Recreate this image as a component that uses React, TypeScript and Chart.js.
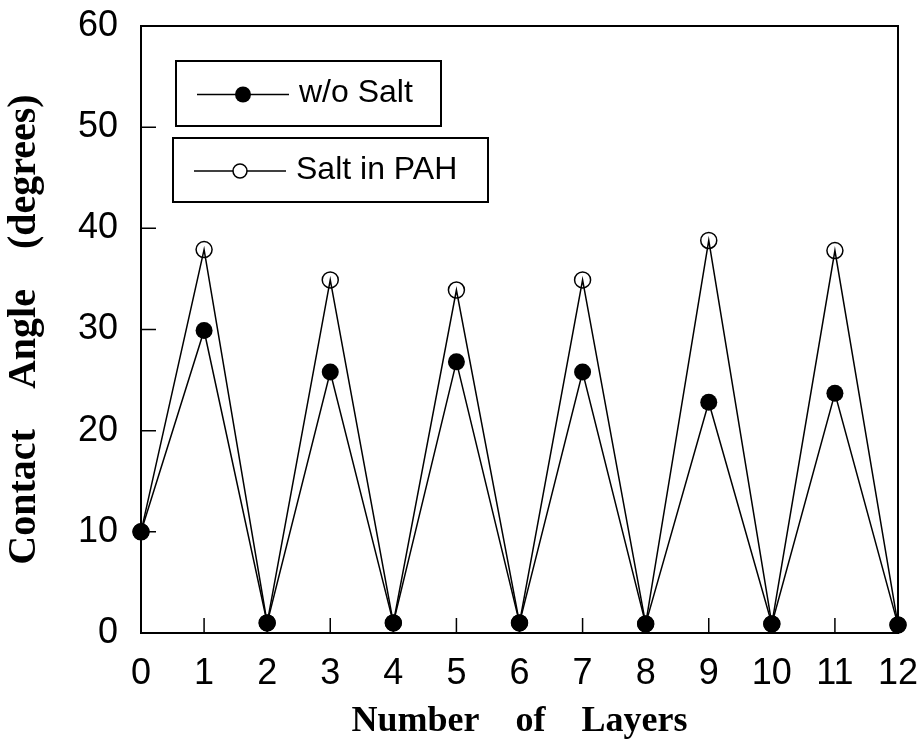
import React, { useEffect, useRef } from "react";
import { Chart, registerables } from "chart.js";
Chart.register(...registerables);

const layers = [0, 1, 2, 3, 4, 5, 6, 7, 8, 9, 10, 11, 12];
const withoutSalt = [10, 29.9, 1, 25.8, 1, 26.8, 1, 25.8, 0.9, 22.8, 0.9, 23.7, 0.8];
const saltInPAH = [10, 37.9, 1, 34.9, 1, 33.9, 1, 34.9, 0.9, 38.8, 0.9, 37.8, 0.8];
const seriesLabels = ["w/o Salt", "Salt in PAH"];
const xTitle = "Number    of    Layers";
const yTitle = "Contact    Angle    (degrees)";
const xTicks = layers;
const yTicks = [0, 10, 20, 30, 40, 50, 60];

const SANS = "'Liberation Sans', Arial, sans-serif";
const SERIF = "'Liberation Serif', 'Times New Roman', serif";

const framePlugin = {
  id: "frame",
  beforeDatasetsDraw(chart: any) {
    const { ctx, chartArea: ca, scales } = chart;
    ctx.save();
    ctx.strokeStyle = "#000";
    ctx.lineWidth = 2;
    ctx.strokeRect(ca.left, ca.top, ca.right - ca.left, ca.bottom - ca.top);
    ctx.lineWidth = 1.5;
    ctx.beginPath();
    for (const v of xTicks) {
      const x = scales.x.getPixelForValue(v);
      ctx.moveTo(x, ca.bottom);
      ctx.lineTo(x, ca.bottom - 15);
    }
    for (const v of yTicks) {
      const y = scales.y.getPixelForValue(v);
      ctx.moveTo(ca.left, y);
      ctx.lineTo(ca.left + 15, y);
    }
    ctx.stroke();
    ctx.restore();
  },
  afterDraw(chart: any) {
    const { ctx, chartArea: ca } = chart;
    const boxes = [
      { dx: 35, dy: 35, w: 265, h: 65, filled: true, r: 8 },
      { dx: 32, dy: 112, w: 315, h: 64, filled: false, r: 7 },
    ];
    ctx.save();
    boxes.forEach((b, i) => {
      const left = ca.left + b.dx;
      const top = ca.top + b.dy;
      ctx.strokeStyle = "#000";
      ctx.lineWidth = 2;
      ctx.strokeRect(left, top, b.w, b.h);
      const cy = top + b.h / 2 + 1;
      ctx.lineWidth = 1.5;
      ctx.beginPath();
      ctx.moveTo(left + 21, cy);
      ctx.lineTo(left + 113, cy);
      ctx.stroke();
      ctx.beginPath();
      ctx.arc(left + 67, cy, b.r, 0, Math.PI * 2);
      if (b.filled) {
        ctx.fillStyle = "#000";
        ctx.fill();
      } else {
        ctx.fillStyle = "#fff";
        ctx.fill();
        ctx.stroke();
      }
      ctx.fillStyle = "#000";
      ctx.font = `32px ${SANS}`;
      ctx.textBaseline = "middle";
      ctx.textAlign = "left";
      ctx.fillText(seriesLabels[i], left + 123, cy - 1);
    });
    ctx.restore();
  },
};

const noPad = (s: any) => {
  s.paddingTop = 0;
  s.paddingBottom = 0;
  s.paddingLeft = 0;
  s.paddingRight = 0;
};

export default function App() {
  const ref = useRef<HTMLCanvasElement | null>(null);
  useEffect(() => {
    if (!ref.current) return;
    const chart = new Chart(ref.current, {
      type: "line",
      data: {
        datasets: [
          {
            label: seriesLabels[0],
            data: layers.map((x, i) => ({ x, y: withoutSalt[i] })),
            borderColor: "#000",
            borderWidth: 1.5,
            pointRadius: 8.5,
            pointBackgroundColor: "#000",
            pointBorderColor: "#000",
            pointBorderWidth: 0,
            tension: 0,
            clip: false,
          },
          {
            label: seriesLabels[1],
            data: layers.map((x, i) => ({ x, y: saltInPAH[i] })),
            borderColor: "#000",
            borderWidth: 1.5,
            pointRadius: 8,
            pointBackgroundColor: "rgba(0,0,0,0)",
            pointBorderColor: "#000",
            pointBorderWidth: 1.5,
            tension: 0,
            clip: false,
          },
        ],
      },
      options: {
        responsive: false,
        animation: false,
        layout: { padding: { top: 26, right: 26, left: 0, bottom: 0 } },
        plugins: { legend: { display: false }, tooltip: { enabled: false } },
        scales: {
          x: {
            type: "linear",
            min: 0,
            max: 12,
            afterFit: (s: any) => {
              s.height = 110;
              noPad(s);
            },
            grid: { display: false },
            border: { display: false },
            ticks: {
              stepSize: 1,
              autoSkip: false,
              maxRotation: 0,
              padding: 11,
              color: "#000",
              font: { family: SANS, size: 36 },
            },
            title: {
              display: true,
              text: xTitle,
              color: "#000",
              padding: { top: 0, bottom: 0 },
              font: { family: SERIF, size: 36, weight: "bold" },
            },
          },
          y: {
            type: "linear",
            min: 0,
            max: 60,
            afterFit: (s: any) => {
              s.width = 141;
              noPad(s);
            },
            grid: { display: false },
            border: { display: false },
            ticks: {
              stepSize: 10,
              padding: 15,
              color: "#000",
              font: { family: SANS, size: 36 },
            },
            title: {
              display: true,
              text: yTitle,
              color: "#000",
              padding: { top: 1, bottom: 0 },
              font: { family: SERIF, size: 40, weight: "bold" },
            },
          },
        },
      },
      plugins: [framePlugin],
    });
    return () => chart.destroy();
  }, []);
  return (
    <div style={{ position: "fixed", left: 0, top: 0, width: 924, height: 743, background: "#fff" }}>
      <canvas ref={ref} width={924} height={743} />
    </div>
  );
}
